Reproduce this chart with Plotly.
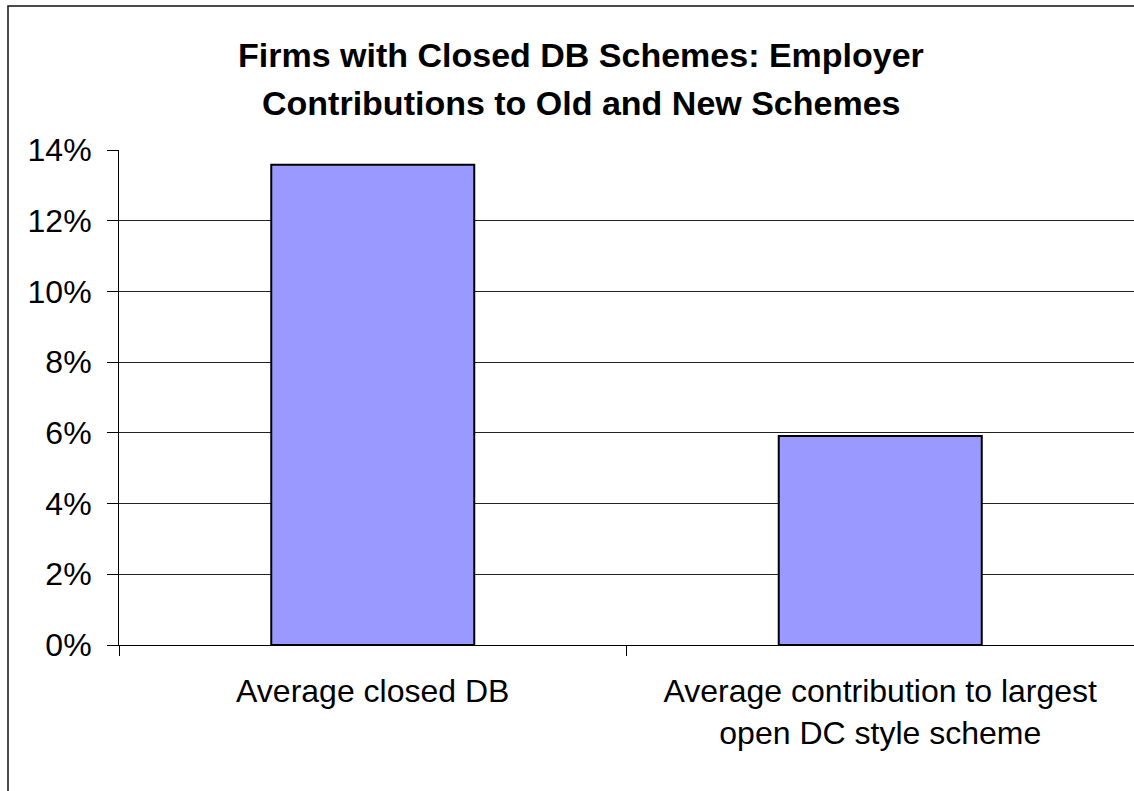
import plotly.graph_objects as go

# Employer contribution rates (fraction of pay) for firms with closed DB schemes
categories = [
    "Average closed DB",
    "Average contribution to largest<br>open DC style scheme",
]
contributions = [0.1358, 0.0591]

tick_vals = [0, 0.02, 0.04, 0.06, 0.08, 0.10, 0.12, 0.14]
tick_text = ["0%", "2%", "4%", "6%", "8%", "10%", "12%", "14%"]

title_lines = [
    "Firms with Closed DB Schemes: Employer",
    "Contributions to Old and New Schemes",
]

W, H = 1134, 791
ML, MT, MB, MR = 119, 150, 146, 0
plot_w = W - ML - MR
plot_h = H - MT - MB


def px_to_paper_x(px):
    return (px - ML) / plot_w


def px_to_paper_y(py):
    return (H - MB - py) / plot_h


FONT = "Liberation Sans, Arial, sans-serif"

fig = go.Figure(
    go.Bar(
        x=categories,
        y=contributions,
        width=0.4,
        marker=dict(color="#9999FF", line=dict(color="black", width=2)),
    )
)

fig.update_layout(
    width=W,
    height=H,
    margin=dict(l=ML, r=MR, t=MT, b=MB, pad=0),
    paper_bgcolor="white",
    plot_bgcolor="white",
    showlegend=False,
    font=dict(family=FONT, size=32, color="black"),
)

fig.update_yaxes(
    range=[0, 0.14],
    tickvals=tick_vals,
    ticktext=tick_text,
    showgrid=True,
    gridcolor="#222222",
    gridwidth=1,
    showline=True,
    linecolor="black",
    linewidth=1,
    ticks="outside",
    ticklen=11,
    tickcolor="black",
    ticklabelstandoff=9,
    zeroline=False,
    fixedrange=True,
)

fig.update_xaxes(
    showline=True,
    linecolor="black",
    linewidth=1,
    ticks="outside",
    tickson="boundaries",
    ticklen=10,
    tickcolor="black",
    ticklabelstandoff=18,
    showgrid=False,
    fixedrange=True,
)

# Outer chart frame (left and top edges visible)
fig.add_shape(
    type="rect",
    xref="paper",
    yref="paper",
    x0=px_to_paper_x(8),
    x1=px_to_paper_x(1150),
    y0=px_to_paper_y(810),
    y1=px_to_paper_y(6),
    line=dict(color="#111111", width=1.5),
    fillcolor="rgba(0,0,0,0)",
    layer="above",
)

# Two-line bold title
for line, py in zip(title_lines, [55, 103]):
    fig.add_annotation(
        text=f"<b>{line}</b>",
        xref="paper",
        yref="paper",
        x=px_to_paper_x(581),
        y=px_to_paper_y(py),
        xanchor="center",
        yanchor="middle",
        showarrow=False,
        font=dict(family=FONT, size=34, color="black"),
    )

fig.write_html("out.html")
